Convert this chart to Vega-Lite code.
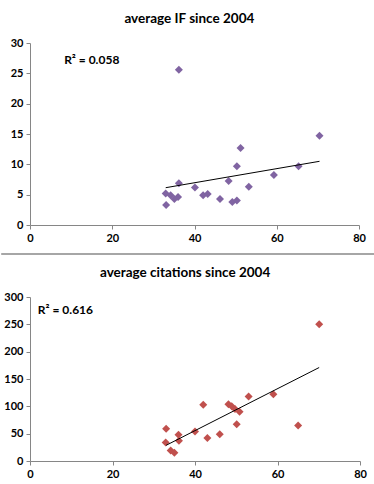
{
  "$schema": "https://vega.github.io/schema/vega-lite/v6.json",
  "padding": {"left": 0, "top": 11, "right": 12, "bottom": 5},
  "spacing": 10,
  "config": {
    "font": "Lato",
    "view": {"stroke": null},
    "axis": {
      "grid": false,
      "domainColor": "#868686",
      "tickColor": "#868686",
      "labelFont": "Lato",
      "labelFontWeight": "bold",
      "labelFontSize": 11,
      "labelColor": "#000000",
      "labelOverlap": false,
      "labelFlush": false,
      "tickSize": 4,
      "labelPadding": 3,
      "title": null
    },
    "title": {"font": "Lato", "fontSize": 13.5, "fontWeight": "bold", "color": "#000000", "anchor": "middle", "frame": "bounds", "offset": 12}
  },
  "datasets": {
    "ifdata": [
      {"x": 33.1, "y": 3.3}, {"x": 33.0, "y": 5.2}, {"x": 34.2, "y": 4.9}, {"x": 35.1, "y": 4.3},
      {"x": 36.0, "y": 4.6}, {"x": 36.2, "y": 6.9}, {"x": 36.2, "y": 25.6}, {"x": 40.1, "y": 6.2},
      {"x": 42.1, "y": 4.9}, {"x": 43.2, "y": 5.1}, {"x": 46.2, "y": 4.3}, {"x": 48.3, "y": 7.25},
      {"x": 49.2, "y": 3.8}, {"x": 50.3, "y": 4.05}, {"x": 50.3, "y": 9.7}, {"x": 51.2, "y": 12.7},
      {"x": 53.2, "y": 6.3}, {"x": 59.3, "y": 8.25}, {"x": 65.3, "y": 9.7}, {"x": 70.4, "y": 14.7}
    ],
    "iftrend": [{"x": 33.0, "y": 6.15}, {"x": 70.4, "y": 10.5}],
    "citdata": [
      {"x": 33.0, "y": 59}, {"x": 32.9, "y": 34}, {"x": 34.1, "y": 19}, {"x": 35.0, "y": 15},
      {"x": 36.0, "y": 48}, {"x": 36.1, "y": 37}, {"x": 40.0, "y": 54}, {"x": 42.0, "y": 103},
      {"x": 43.0, "y": 42}, {"x": 46.0, "y": 49}, {"x": 48.1, "y": 104}, {"x": 48.9, "y": 100},
      {"x": 49.7, "y": 95}, {"x": 50.8, "y": 90}, {"x": 50.1, "y": 67}, {"x": 53.0, "y": 118},
      {"x": 59.0, "y": 122}, {"x": 65.0, "y": 65}, {"x": 70.1, "y": 250}
    ],
    "cittrend": [{"x": 33.0, "y": 28.7}, {"x": 70.1, "y": 171}]
  },
  "vconcat": [
    {
      "title": "average IF since 2004",
      "width": 329,
      "height": 182,
      "encoding": {
        "x": {"field": "x", "type": "quantitative", "scale": {"domain": [0, 80]}, "axis": {"values": [0, 20, 40, 60, 80]}},
        "y": {"field": "y", "type": "quantitative", "scale": {"domain": [0, 30]}, "axis": {"values": [0, 5, 10, 15, 20, 25, 30]}}
      },
      "layer": [
        {
          "data": {"name": "ifdata"},
          "mark": {"type": "point", "shape": "diamond", "filled": true, "size": 64, "color": "#8064A2", "opacity": 1}
        },
        {
          "data": {"name": "iftrend"},
          "mark": {"type": "line", "color": "#000000", "strokeWidth": 1}
        },
        {
          "data": {"values": [{"x": 8.3, "y": 27.2, "label": "R² = 0.058"}]},
          "mark": {"type": "text", "align": "left", "baseline": "middle", "font": "Lato", "fontWeight": "bold", "fontSize": 12, "color": "#000000"},
          "encoding": {"text": {"field": "label"}}
        },
        {
          "data": {"values": [{"x": -7.0, "x2": 84.5, "y": -4.8}]},
          "mark": {"type": "rule", "color": "#888888", "strokeWidth": 1.5},
          "encoding": {"x2": {"field": "x2"}}
        }
      ]
    },
    {
      "title": "average citations since 2004",
      "width": 330,
      "height": 164,
      "encoding": {
        "x": {"field": "x", "type": "quantitative", "scale": {"domain": [0, 80]}, "axis": {"values": [0, 20, 40, 60, 80]}},
        "y": {"field": "y", "type": "quantitative", "scale": {"domain": [0, 300]}, "axis": {"values": [0, 50, 100, 150, 200, 250, 300]}}
      },
      "layer": [
        {
          "data": {"name": "citdata"},
          "mark": {"type": "point", "shape": "diamond", "filled": true, "size": 64, "color": "#C0504D", "opacity": 1}
        },
        {
          "data": {"name": "cittrend"},
          "mark": {"type": "line", "color": "#000000", "strokeWidth": 1}
        },
        {
          "data": {"values": [{"x": 1.9, "y": 277, "label": "R² = 0.616"}]},
          "mark": {"type": "text", "align": "left", "baseline": "middle", "font": "Lato", "fontWeight": "bold", "fontSize": 12, "color": "#000000"},
          "encoding": {"text": {"field": "label"}}
        }
      ]
    }
  ]
}
